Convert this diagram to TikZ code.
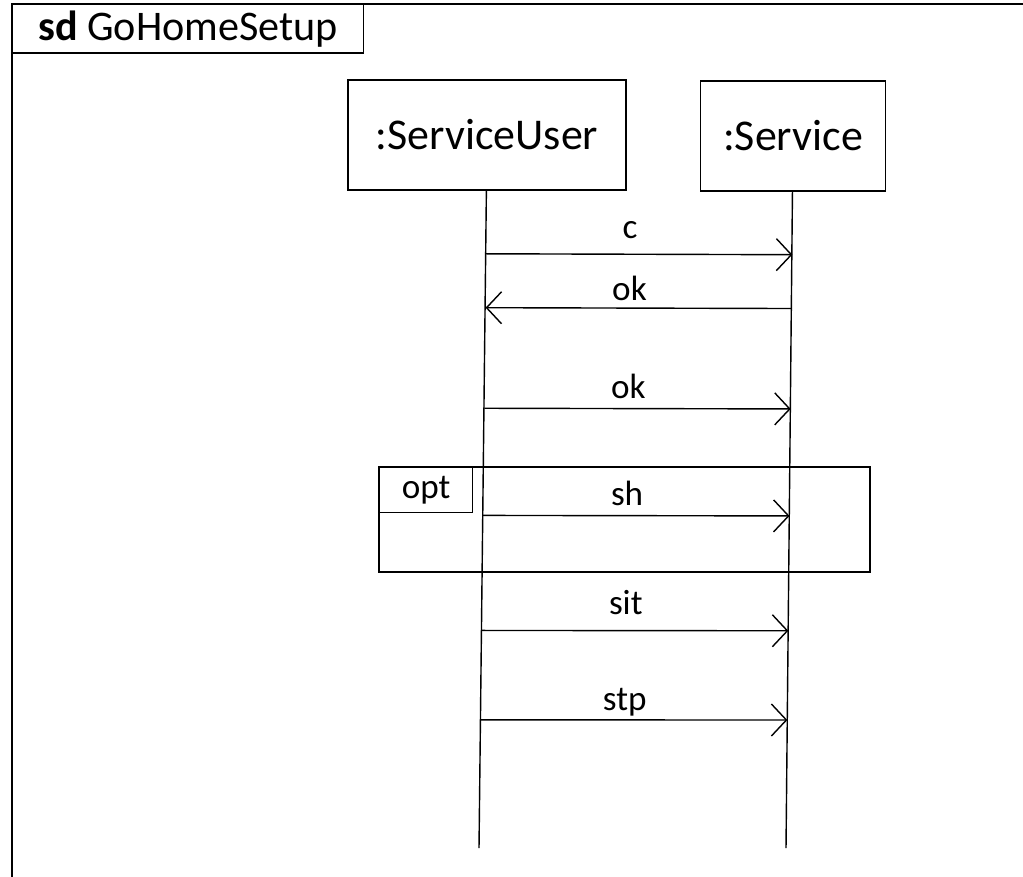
\documentclass[tikz,border=0pt]{standalone}
\usepackage{fontspec}
\setmainfont{Carlito}
\usetikzlibrary{arrows.meta,calc}
\tikzset{>/.tip={Straight Barb[length=3mm,width=6.4mm]}}

\begin{document}
\begin{tikzpicture}[x=0.02cm,y=-0.02cm,line width=0.8pt,
  head/.style={draw,minimum height=2.2cm,font=\fontsize{25}{29}\selectfont},
  msg/.style={anchor=base,pos=0.47,yshift=#1,font=\fontsize{20}{24}\selectfont}]
\useasboundingbox (0,0) rectangle (1023,876);

% frame
\node (sd) [draw,anchor=north west,minimum width=7.02cm,minimum height=0.96cm,
  font=\fontsize{24}{28}\selectfont] at (12,4) {\textbf{sd} GoHomeSetup};
\coordinate (fr-tr) at (1030,4);
\coordinate (fr-bl) at (12,880);
\draw (fr-tr) -- (sd.north west) -- (fr-bl);

% lifelines
\node (su) [head,minimum width=5.56cm] at (487,135) {:ServiceUser};
\node (sv) [head,minimum width=3.7cm] at (793,136) {:Service};
\coordinate (su-end) at (479,848);
\coordinate (sv-end) at (786,848);
\draw (su) -- (su-end);
\draw (sv) -- (sv-end);

% opt fragment
\node (opt) [draw,anchor=north west,minimum width=1.86cm,minimum height=0.9cm,
  font=\fontsize{20}{24}\selectfont] at (379,467) {opt};
\coordinate (opt-br) at (870,572);
\draw (opt.north west) rectangle (opt-br);

% messages
\path[->] ($(su.south)!0.096!(su-end)$) edge node[msg=0.32cm] {c}
     ($(sv.south)!0.096!(sv-end)$);
\path[->] ($(sv.south)!0.178!(sv-end)$) edge node[msg=0.16cm,pos=0.53] {ok}
     ($(su.south)!0.178!(su-end)$);
\path[->] ($(su.south)!0.331!(su-end)$) edge node[msg=0.2cm] {ok}
     ($(sv.south)!0.331!(sv-end)$);
\path[->] ($(su.south)!0.494!(su-end)$) edge node[msg=0.2cm] {sh}
     ($(sv.south)!0.494!(sv-end)$);
\path[->] ($(su.south)!0.669!(su-end)$) edge node[msg=0.32cm] {sit}
     ($(sv.south)!0.669!(sv-end)$);
\path[->] ($(su.south)!0.805!(su-end)$) edge node[msg=0.18cm] {stp}
     ($(sv.south)!0.805!(sv-end)$);
\end{tikzpicture}
\end{document}
